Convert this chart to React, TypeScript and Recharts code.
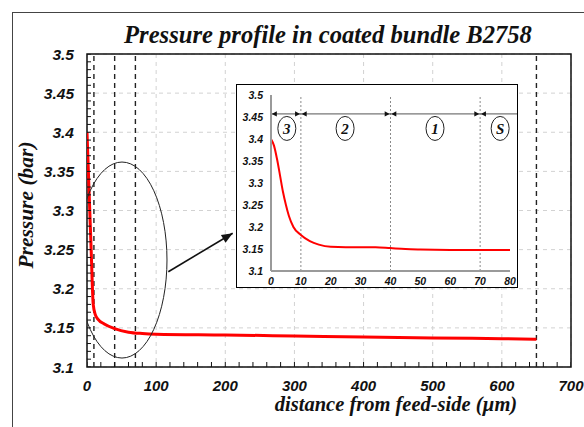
import React from 'react';
import {
  ComposedChart,
  Line,
  XAxis,
  YAxis,
  CartesianGrid,
  ReferenceLine,
  ReferenceArea,
  Scatter,
} from 'recharts';

// ---------- data ----------
const mainDistance = [0, 3, 6, 9, 12, 16, 25, 40, 60, 80, 100, 200, 300, 400, 500, 600, 650];
const mainPressure = [3.4, 3.325, 3.25, 3.18, 3.167, 3.161, 3.155, 3.149, 3.1445, 3.1428, 3.142, 3.141, 3.1396, 3.1383, 3.137, 3.1362, 3.1354];

const insetDistance = [0, 1, 2, 3, 4, 5, 6, 7.5, 10, 13, 16, 20, 25, 30, 35, 40, 45, 50, 60, 70, 80];
const insetPressure = [3.4, 3.385, 3.355, 3.318, 3.28, 3.25, 3.225, 3.2, 3.182, 3.168, 3.16, 3.155, 3.154, 3.154, 3.154, 3.152, 3.15, 3.149, 3.148, 3.1478, 3.1478];

const mainXTicks = [0, 100, 200, 300, 400, 500, 600, 700];
const mainYTicks = [3.1, 3.15, 3.2, 3.25, 3.3, 3.35, 3.4, 3.45, 3.5];
const insetXTicks = [0, 10, 20, 30, 40, 50, 60, 70, 80];
const insetYTicks = [3.1, 3.15, 3.2, 3.25, 3.3, 3.35, 3.4, 3.45, 3.5];

const mainBoundaries = [10, 40, 70, 650];
const zoneBoundaries = [10, 40, 70];
const zoneLabels = ['3', '2', '1', 'S'];
const zoneLabelX = [5.3, 24.8, 54.9, 76.7];
const zoneLabelY = 3.424;
const zoneArrowY = 3.457;

const minorXTicks = Array.from({ length: 36 }, (_, i) => i * 20);
const minorYTicks = Array.from({ length: 41 }, (_, i) => +(3.1 + i * 0.01).toFixed(2));

// annotation anchors (data coordinates)
const ellipseCenter = { x: 50.6, y: 3.2367 };
const arrowStart = { x: 117.6, y: 3.2218 };
const arrowEnd = { x: 210.7, y: 3.2709 };

const mainData = mainDistance.map((x, i) => ({ x, y: mainPressure[i] }));
const insetData = insetDistance.map((x, i) => ({ x, y: insetPressure[i] }));
const minorXData = minorXTicks.map((x) => ({ x, y: 3.1 }));
const minorYData = minorYTicks.map((y) => ({ x: 0, y }));
const zoneLabelData = zoneLabels.map((label, i) => ({ x: zoneLabelX[i], y: zoneLabelY, label }));
const arrowHeadData = [
  { x: 0, y: zoneArrowY, dir: -1 },
  ...zoneBoundaries.flatMap((b) => [
    { x: b, y: zoneArrowY, dir: 1 },
    { x: b, y: zoneArrowY, dir: -1 },
  ]),
];

const SANS = 'Liberation Sans, Arial, sans-serif';
const SERIF = 'Liberation Serif, Times New Roman, serif';

const mainXTick = (p: any) => (
  <text x={p.x} y={p.y} dy="0.71em" textAnchor="middle" fontFamily={SANS} fontWeight="bold" fontStyle="italic" fontSize={15} fill="#111">
    {p.payload.value}
  </text>
);
const mainYTick = (p: any) => (
  <text x={p.x} y={p.y} dy="0.36em" textAnchor="end" fontFamily={SANS} fontWeight="bold" fontStyle="italic" fontSize={15.5} fill="#111">
    {p.payload.value}
  </text>
);
const insetXTick = (p: any) => (
  <text x={p.x} y={p.y} dy="0.71em" textAnchor="middle" fontFamily={SANS} fontWeight="bold" fontStyle="italic" fontSize={10.5} fill="#111">
    {p.payload.value}
  </text>
);
const insetYTick = (p: any) => (
  <text x={p.x} y={p.y} dy="0.36em" textAnchor="end" fontFamily={SANS} fontWeight="bold" fontStyle="italic" fontSize={10.5} fill="#111">
    {p.payload.value}
  </text>
);

let arrowPrev = { x: 0, y: 0 };
const arrowDot = (p: any) => {
  if (p.index === 0) {
    arrowPrev = { x: p.cx, y: p.cy };
    return <g key={`ad${p.index}`} />;
  }
  const ang = Math.atan2(p.cy - arrowPrev.y, p.cx - arrowPrev.x);
  const L = 11;
  const W = 4.5;
  const bx = p.cx - L * Math.cos(ang);
  const by = p.cy - L * Math.sin(ang);
  const nx = -Math.sin(ang) * W;
  const ny = Math.cos(ang) * W;
  return (
    <polygon
      key={`ad${p.index}`}
      points={`${p.cx},${p.cy} ${bx + nx},${by + ny} ${bx - nx},${by - ny}`}
      fill="#111"
    />
  );
};

export default function App() {
  return (
    <div style={{ position: 'absolute', left: 0, top: 0, width: 584, height: 427, overflow: 'hidden', background: '#fff' }}>
      <div
        style={{
          position: 'absolute',
          left: 12,
          top: 12,
          width: 600,
          height: 500,
          borderLeft: '1px solid #444',
          borderTop: '1px solid #444',
        }}
      />
      <svg width={584} height={60} style={{ position: 'absolute', left: 0, top: 0 }}>
        <text x={328} y={43} textAnchor="middle" fontFamily={SERIF} fontWeight="bold" fontStyle="italic" fontSize={24.6} fill="#111">
          Pressure profile in coated bundle B2758
        </text>
      </svg>
      <div style={{ position: 'absolute', left: 0, top: 0 }}>
        <ComposedChart width={584} height={427} margin={{ top: 54, right: 13, bottom: 0, left: 0 }}>
          <CartesianGrid stroke="#d2d2d2" strokeDasharray="4 4" />
          <XAxis
            dataKey="x"
            type="number"
            domain={[0, 700]}
            ticks={mainXTicks}
            interval={0}
            allowDataOverflow
            height={60}
            axisLine={false}
            tickLine={false}
            tickSize={0}
            tickMargin={13}
            tick={mainXTick}
            label={{
              content: (props: any) => {
                const vb = props.viewBox || { x: 87, y: 367 };
                return (
                  <text x={vb.x + 309} y={vb.y + 44} textAnchor="middle" fontFamily={SERIF} fontWeight="bold" fontStyle="italic" fontSize={20.5} fill="#111">
                    distance from feed-side (µm)
                  </text>
                );
              },
            }}
          />
          <YAxis
            dataKey="y"
            type="number"
            domain={[3.1, 3.5]}
            ticks={mainYTicks}
            interval={0}
            allowDataOverflow
            width={87}
            axisLine={false}
            tickLine={false}
            tickSize={0}
            tickMargin={13}
            tick={mainYTick}
            label={{
              content: (props: any) => {
                const vb = props.viewBox || { x: 0, y: 54, height: 313 };
                const cx = 33;
                const cy = vb.y + 151;
                return (
                  <text x={cx} y={cy} transform={`rotate(-90 ${cx} ${cy})`} textAnchor="middle" fontFamily={SERIF} fontWeight="bold" fontStyle="italic" fontSize={21.5} fill="#111">
                    Pressure (bar)
                  </text>
                );
              },
            }}
          />
          {mainBoundaries.map((b) => (
            <ReferenceLine key={`mb${b}`} x={b} stroke="#222" strokeWidth={1.4} strokeDasharray="5 4" />
          ))}
          <ReferenceArea x1={0} x2={700} y1={3.1} y2={3.5} fill="none" stroke="#111" strokeWidth={1.5} />
          <Scatter
            data={minorXData}
            isAnimationActive={false}
            shape={(p: any) => <line x1={p.cx} y1={p.cy} x2={p.cx} y2={p.cy - 5} stroke="#111" strokeWidth={1} />}
          />
          <Scatter
            data={minorYData}
            isAnimationActive={false}
            shape={(p: any) => <line x1={p.cx} y1={p.cy} x2={p.cx + 4} y2={p.cy} stroke="#111" strokeWidth={1} />}
          />
          <Line
            data={mainData}
            dataKey="y"
            type="monotone"
            stroke="#ff0000"
            strokeWidth={3}
            dot={false}
            activeDot={false}
            isAnimationActive={false}
          />
          <Scatter
            data={[ellipseCenter]}
            isAnimationActive={false}
            shape={(p: any) => <ellipse cx={p.cx} cy={p.cy} rx={45} ry={98} fill="none" stroke="#222" strokeWidth={1} />}
          />
          <Line
            data={[arrowStart, arrowEnd]}
            dataKey="y"
            type="linear"
            stroke="#111"
            strokeWidth={1.6}
            dot={arrowDot}
            activeDot={false}
            isAnimationActive={false}
          />
        </ComposedChart>
      </div>

      <div style={{ position: 'absolute', left: 236, top: 84, width: 282, height: 204, background: '#fff' }}>
        <ComposedChart width={282} height={204} margin={{ top: 11, right: 8, bottom: 0, left: 0 }}>
          <XAxis
            dataKey="x"
            type="number"
            domain={[0, 80]}
            ticks={insetXTicks}
            interval={0}
            allowDataOverflow
            height={17}
            axisLine={{ stroke: '#9a9a9a', strokeWidth: 2 }}
            tickLine={false}
            tickSize={0}
            tickMargin={7}
            tick={insetXTick}
          />
          <YAxis
            dataKey="y"
            type="number"
            domain={[3.1, 3.5]}
            ticks={insetYTicks}
            interval={0}
            allowDataOverflow
            width={35}
            axisLine={{ stroke: '#9a9a9a', strokeWidth: 2 }}
            tickLine={false}
            tickSize={0}
            tickMargin={8}
            tick={insetYTick}
          />
          {zoneBoundaries.map((b) => (
            <ReferenceLine key={`zb${b}`} x={b} stroke="#8a8a8a" strokeWidth={1} strokeDasharray="2 2" />
          ))}
          <ReferenceLine
            segment={[
              { x: 0, y: zoneArrowY },
              { x: 82.4, y: zoneArrowY },
            ]}
            ifOverflow="visible"
            stroke="#555"
            strokeWidth={1}
          />
          <Scatter
            data={arrowHeadData}
            isAnimationActive={false}
            shape={(p: any) => {
              const d = p.payload.dir;
              const tip = p.cx + (d > 0 ? -0.8 : 0.8);
              const base = tip - d * 5;
              return <polygon points={`${tip},${p.cy} ${base},${p.cy - 2.6} ${base},${p.cy + 2.6}`} fill="#111" />;
            }}
          />
          <Scatter
            data={zoneLabelData}
            isAnimationActive={false}
            shape={(p: any) => (
              <g>
                <ellipse cx={p.cx} cy={p.cy} rx={9} ry={12} fill="#fff" stroke="#222" strokeWidth={1} />
                <text x={p.cx} y={p.cy} dy="0.35em" textAnchor="middle" fontFamily={SERIF} fontWeight="bold" fontStyle="italic" fontSize={15} fill="#111">
                  {p.payload.label}
                </text>
              </g>
            )}
          />
          <Line
            data={insetData}
            dataKey="y"
            type="monotone"
            stroke="#ff0000"
            strokeWidth={2}
            dot={false}
            activeDot={false}
            isAnimationActive={false}
          />
        </ComposedChart>
        <div style={{ position: 'absolute', left: 0, top: 0, width: 282, height: 204, boxSizing: 'border-box', border: '1.5px solid #000', pointerEvents: 'none' }} />
      </div>
    </div>
  );
}
